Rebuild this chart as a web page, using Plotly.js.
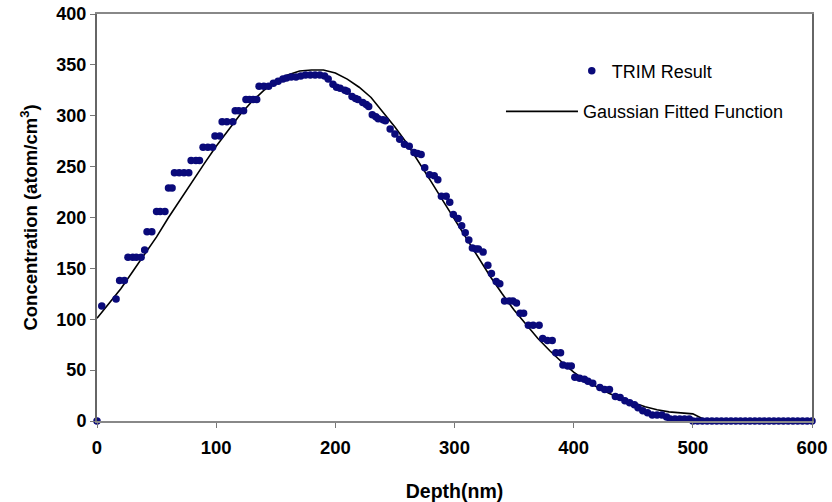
<!DOCTYPE html>
<html>
<head>
<meta charset="utf-8">
<script src="https://cdn.plot.ly/plotly-3.0.1.min.js"></script>
<style>html,body{margin:0;padding:0;background:#fff;}#chart{width:832px;height:502px;}</style>
</head>
<body>
<div id="chart"></div>
<script>
// TRIM simulation result (depth nm, concentration)
const trimDepth = [0,4,16,19,23,26,30,33,37,40,42,46,50,53,57,60,63,65,69,73,77,79,83,86,89,93,97,99,103,105,109,114,116,119,123,125,128,131,134,136,140,144,148,152,156,159,163,167,171,175,179,183,187,191,194,198,201,204,208,210,214,217,219,223,226,228,231,234,236,240,242,246,250,254,258,262,266,269,272,275,279,283,286,289,293,296,299,303,306,309,312,315,318,320,324,328,331,335,338,342,346,349,352,355,358,362,366,371,374,378,382,385,389,391,395,398,401,405,409,412,416,422,426,430,435,439,443,447,451,454,458,462,466,470,474,478,481,485,489,493,497,500,504,508,512,516,520,524,528,532,536,540,544,548,552,556,560,564,568,572,576,580,584,588,592,596,600];
const trimConc = [0,113,120,138,138,161,161,161,161,168,186,186,206,206,206,229,229,244,244,244,244,256,256,256,269,269,269,280,280,294,294,294,305,305,305,316,316,316,316,329,329,329,332,334,336,337,338,338,339,340,340,340,340,339,336,331,328,327,325,324,319,317,316,313,311,309,301,299,297,296,295,287,282,277,272,270,264,263,262,249,242,241,237,221,221,215,203,199,192,185,178,170,169,169,166,153,145,137,135,118,118,118,116,106,106,94,94,94,81,79,79,67,67,55,54,54,43,42,41,39,37,33,31,31,24,23,20,18,16,13,10,8,6,6,6,4,2,2,2,2,2,0,0,0,0,0,0,0,0,0,0,0,0,0,0,0,0,0,0,0,0,0,0,0,0,0,0];

// Gaussian fitted function
const fitDepth = [0,10,20,30,40,50,60,70,80,90,100,110,120,130,140,150,160,170,180,190,200,210,220,230,240,250,260,270,280,290,300,310,320,330,340,350,360,370,380,390,400,410,420,430,440,450,460,470,480,490,500,512];
const fitConc = [101,115,130,147,164,181,200,218,236,253,270,286,301,314,325,333,340,344,345,345,342,336,328,318,304,289,273,255,236,217,198,179,160,142,125,109,95,81,69,58,48,40,33,27,22,18,14,11,9,8,7,0];

const seriesNames = ['TRIM Result', 'Gaussian Fitted Function'];
const xTitle = 'Depth(nm)';
const yTitle = 'Concentration (atom/cm<sup>3</sup>)';

const FONT = 'Liberation Sans, Arial, Helvetica, sans-serif';
const BOLD = {family: FONT, size: 18, color: '#000', weight: 700};

const traces = [
  {
    x: fitDepth, y: fitConc, type: 'scatter', mode: 'lines',
    name: seriesNames[1], legend: 'legend2',
    line: {color: '#000', width: 1.6},
    hoverinfo: 'skip', cliponaxis: false
  },
  {
    x: trimDepth, y: trimConc, type: 'scatter', mode: 'markers',
    name: seriesNames[0], legend: 'legend',
    marker: {color: '#0a0a7a', size: 7.5, line: {width: 0}},
    cliponaxis: false
  }
];

const layout = {
  width: 832, height: 502,
  margin: {l: 97, r: 20, t: 14, b: 81},
  paper_bgcolor: '#fff', plot_bgcolor: '#fff',
  font: {family: FONT, size: 18, color: '#000'},
  showlegend: true,
  xaxis: {
    range: [0, 600], dtick: 100, tick0: 0,
    showgrid: false, zeroline: false,
    showline: true, linecolor: '#888', linewidth: 2, mirror: true,
    ticks: 'outside', ticklen: 5, tickcolor: '#777', tickwidth: 1,
    ticklabelstandoff: 4,
    tickfont: Object.assign({}, BOLD, {size: 18.5}),
    title: {text: xTitle, font: Object.assign({}, BOLD, {size: 19.5}), standoff: 30}
  },
  yaxis: {
    range: [0, 400], dtick: 50, tick0: 0,
    showgrid: false, zeroline: false,
    showline: true, linecolor: '#666', linewidth: 2, mirror: true,
    ticks: 'outside', ticklen: 5, tickcolor: '#777', tickwidth: 1,
    tickfont: BOLD,
    title: {text: yTitle, font: Object.assign({}, BOLD, {size: 18.5}), standoff: 14}
  },
  legend: {
    x: 0.664, y: 0.86, xanchor: 'left', yanchor: 'middle',
    bgcolor: 'rgba(0,0,0,0)', borderwidth: 0,
    font: {family: FONT, size: 18, color: '#000'}
  },
  legend2: {
    x: 0.565, y: 0.76, xanchor: 'left', yanchor: 'middle',
    bgcolor: 'rgba(0,0,0,0)', borderwidth: 0, itemwidth: 72,
    font: {family: FONT, size: 18, color: '#000'}
  }
};

Plotly.newPlot('chart', traces, layout, {displayModeBar: false, staticPlot: true});
</script>
</body>
</html>
